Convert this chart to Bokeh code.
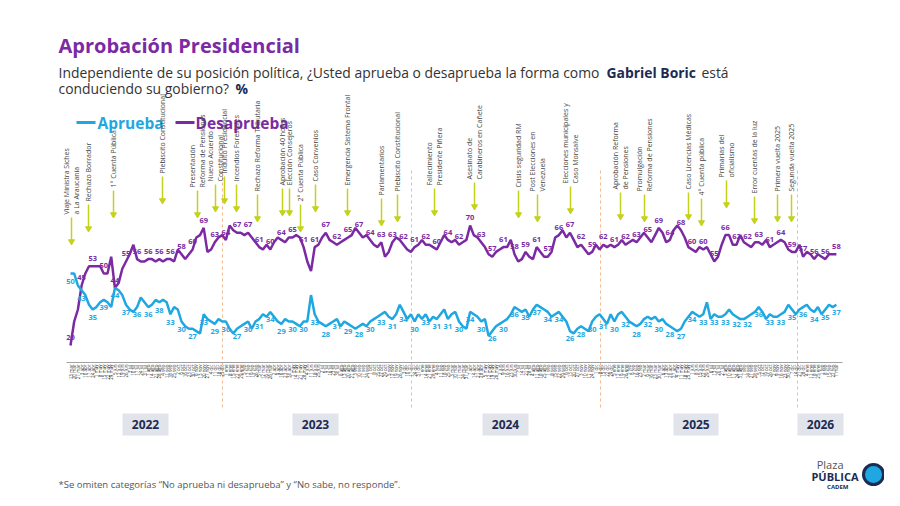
import math
import pandas as pd
from bokeh.plotting import figure
from bokeh.models import Range1d
from bokeh.core.properties import value
from bokeh.embed import file_html
from bokeh.resources import INLINE

# ---------------- data ----------------
start_date = "2022-03-13"
aprueba_2022 = [50,50,45,43,41,37,35,36,38,39,38,36,44,43,41,37,35,34,36,40,38,36,37,39,38,39,38,33,36,35,30,28,27,27,26,25,33,31,30,29,31,30]
desaprueba_2022 = [20,30,35,45,50,53,53,53,53,50,50,57,44,46,52,55,58,62,56,55,55,56,56,55,56,55,56,56,55,60,58,56,58,60,65,66,69,59,60,63,65,66]
aprueba_2023 = [30,27,25,27,28,29,30,27,30,31,33,32,34,32,30,29,31,30,30,29,28,30,30,41,33,30,29,28,29,30,31,28,30,29,28,27,28,29,28,30,31,32,33,34,32,31,33,37,34,31,33,30]
desaprueba_2023 = [64,70,68,67,67,66,67,65,63,61,60,62,60,63,65,64,63,65,65,66,65,61,55,51,61,62,65,67,64,63,62,63,64,65,66,69,67,65,66,64,62,61,63,57,59,63,65,64,62,60,59,61]
aprueba_2024 = [33,31,33,30,32,31,33,35,31,33,34,30,28,27,34,33,32,30,31,24,26,28,29,30,31,33,36,35,34,35,32,35,37,36,35,34,32,33,34,32,30,26,25,27,28,27,26,30,32,33,31,29]
desaprueba_2024 = [62,64,62,62,61,60,63,66,64,63,64,62,63,64,70,66,65,63,61,58,57,59,60,61,61,64,58,55,56,59,57,56,61,59,57,57,59,65,66,68,65,67,64,61,62,60,58,59,62,60,62,61]
aprueba_2025 = [33,30,33,34,32,30,29,28,29,31,32,31,32,30,31,29,28,27,26,27,30,32,34,33,32,33,38,31,33,32,32,33,35,33,32,31,31,32,33,34,36,34,31,33,32,32,33,34,37,35,33,35]
desaprueba_2025 = [62,61,62,64,62,63,64,63,65,67,65,63,66,69,67,63,64,68,70,68,65,61,60,59,61,60,61,58,55,57,62,66,66,62,62,66,63,62,61,63,63,62,64,61,62,63,64,63,60,59,59,62]
aprueba_2026 = [36,37,35,34,36,33,35,37,36,37]
desaprueba_2026 = [57,59,58,56,58,57,56,58,58,58]

aprueba = aprueba_2022 + aprueba_2023 + aprueba_2024 + aprueba_2025 + aprueba_2026
desaprueba = desaprueba_2022 + desaprueba_2023 + desaprueba_2024 + desaprueba_2025 + desaprueba_2026
n = min(len(aprueba), len(desaprueba))
aprueba, desaprueba = aprueba[:n], desaprueba[:n]
idx = list(range(n))

years = ["2022", "2023", "2024", "2025", "2026"]
events = [
    (71, 245, "Viaje Ministra Siches\na La Araucanía"), (88, 232, "Rechazo Borrador"),
    (113, 218, "1° Cuenta Pública"), (162, 204, "Plebiscito Constitucional"),
    (197, 218, "Presentación\nReforma de Pensiones"), (215, 212, "Nuevo Acuerdo\nConstitucional"),
    (224, 204, "Indulto Presidencial"), (236, 212, "Incendios Forestales"),
    (257, 222, "Rechazo Reforma Tributaria"), (282, 216, "Aprobación 40 horas"),
    (289, 216, "Elección Consejeros"), (300, 232, "2° Cuenta Pública"),
    (315, 212, "Caso Convenios"), (347, 216, "Emergencia Sistema Frontal"),
    (381, 226, "Parlamentarios"), (397, 222, "Plebiscito Constitucional"),
    (434, 216, "Fallecimiento\nPresidente Piñera"), (474, 210, "Asesinato de\nCarabineros en Cañete"),
    (518, 218, "Crisis seguridad RM"), (537, 222, "Post Elecciones en\nVenezuela"),
    (570, 214, "Elecciones municipales y\nCaso Monsalve"), (620, 220, "Aprobación Reforma\nde Pensiones"),
    (644, 222, "Promulgación\nReforma de Pensiones"), (688, 220, "Caso Licencias Médicas"),
    (701, 226, "4° Cuenta pública"), (726, 208, "Primarias del\noficialismo"),
    (754, 224, "Error cuentas de la luz"), (777, 222, "Primera vuelta 2025"),
    (791, 222, "Segunda vuelta 2025"),
]

meses = ["ene","feb","mar","abr","may","jun","jul","ago","sep","oct","nov","dic"]
dates = pd.date_range(start_date, periods=n, freq="7D")
date_labels = [f"{d.day} {meses[d.month-1]}" for d in dates]

# ---------------- mapping (reference pixel -> data) ----------------
W, H = 884, 490
X0, DX = 70.0, 3.70
Y0, DY = 345.0, 2.4
def xd(X): return (X - X0) / DX
def yd(Y): return 20 + (Y0 - Y) / DY

p = figure(width=W, height=H, output_backend="svg", toolbar_location=None,
           x_range=Range1d(xd(0), xd(W)), y_range=Range1d(yd(H), yd(0)),
           min_border=0, outline_line_color=None)
p.axis.visible = False
p.grid.visible = False

F = value("Open Sans")
BLUE = "#1ea7e1"
PURPLE = "#7b2aa3"

p.text([xd(58)], [yd(45)], text=["Aprobación Presidencial"], text_font=F, text_font_size="20px",
       text_font_style="bold", text_color="#7b2aa3", text_baseline="middle")
sub = [(58, 72, "Independiente de su posición política, ¿Usted aprueba o desaprueba la forma como", "normal", "#333333"),
       (606, 72, "Gabriel Boric", "bold", "#1d2b52"),
       (701, 72, "está", "normal", "#333333"),
       (58, 88, "conduciendo su gobierno?", "normal", "#333333"),
       (235, 88, "%", "bold", "#1d2b52")]
for X, Y, t, st, c in sub:
    p.text([xd(X)], [yd(Y)], text=[t], text_font=F, text_font_size="13.9px", text_font_style=st,
           text_color=c, text_baseline="middle")

p.line([xd(76), xd(95)], [yd(122)] * 2, line_color=BLUE, line_width=3)
p.text([xd(97)], [yd(122)], text=["Aprueba"], text_font=F, text_font_size="15.5px", text_font_style="bold",
       text_color=BLUE, text_baseline="middle")
p.line([xd(175), xd(194)], [yd(122)] * 2, line_color=PURPLE, line_width=3)
p.text([xd(195)], [yd(122)], text=["Desaprueba"], text_font=F, text_font_size="15.5px", text_font_style="bold",
       text_color=PURPLE, text_baseline="middle")

for X in [222, 411, 600, 797]:
    p.line([xd(X)] * 2, [yd(170), yd(410)], line_color="#f6b88f", line_dash="3 3", line_width=1)

ex = [xd(e[0]) for e in events]
p.segment(ex, [yd(e[1] - 28) for e in events], ex, [yd(e[1] - 4) for e in events],
          line_color="#c5d21c", line_width=1.5)
p.scatter(ex, [yd(e[1] - 4) for e in events], marker="inverted_triangle", size=6,
          fill_color="#c5d21c", line_color="#c5d21c")
p.text(ex, [yd(e[1] - 31) for e in events], text=[e[2] for e in events], angle=math.pi / 2,
       text_font=F, text_font_size="7px", text_color="#444444", text_align="left",
       text_baseline="middle", text_line_height=1.05)

p.line(idx, desaprueba, line_color=PURPLE, line_width=2.5)
p.line(idx, aprueba, line_color=BLUE, line_width=2.5)
lab = [i for i in idx if i % 3 == 0 or i == n - 1]
p.text(lab, [desaprueba[i] + 2.2 for i in lab], text=[str(desaprueba[i]) for i in lab],
       text_font=F, text_font_size="7.5px", text_font_style="bold", text_color=PURPLE,
       text_align="center", text_baseline="bottom")
p.text(lab, [aprueba[i] - 2.2 for i in lab], text=[str(aprueba[i]) for i in lab],
       text_font=F, text_font_size="7.5px", text_font_style="bold", text_color=BLUE,
       text_align="center", text_baseline="top")

p.line([xd(66), xd(842)], [yd(362)] * 2, line_color="#888888", line_width=0.8)
p.text(idx, [yd(364)] * n, text=date_labels, angle=math.pi / 2, text_font=F, text_font_size="4.5px",
       text_color="#333333", text_align="right", text_baseline="middle")

boxes = [(122, 168), (292, 338), (482, 528), (673, 718), (797, 843)]
for (a, b), yr in zip(boxes, years):
    p.quad(left=xd(a), right=xd(b), top=yd(413), bottom=yd(435), fill_color="#e1e4ea", line_color=None)
    p.text([xd((a + b) / 2)], [yd(424)], text=[yr], text_font=F, text_font_size="12px",
           text_font_style="bold", text_color="#1d2b52", text_align="center", text_baseline="middle")

p.text([xd(58)], [yd(484)], text=["*Se omiten categorías \u201cNo aprueba ni desaprueba\u201d y \u201cNo sabe, no responde\u201d."],
       text_font=F, text_font_size="9.5px", text_color="#555555", text_baseline="middle")
p.text([xd(843)], [yd(464)], text=["Plaza"], text_font=F, text_font_size="11px", text_color="#555555",
       text_align="right", text_baseline="middle")
p.text([xd(858)], [yd(476)], text=["PÚBLICA"], text_font=F, text_font_size="11px", text_font_style="bold",
       text_color="#1d2b52", text_align="right", text_baseline="middle")
p.text([xd(848)], [yd(486)], text=["CADEM"], text_font=F, text_font_size="6px", text_font_style="bold",
       text_color="#1d2b52", text_align="right", text_baseline="middle")
p.scatter([xd(873)], [yd(474)], marker="circle", size=20, fill_color="#1ea7e1", line_color="#1d2b52", line_width=3)

open("out.html", "w").write(file_html(p, INLINE))
